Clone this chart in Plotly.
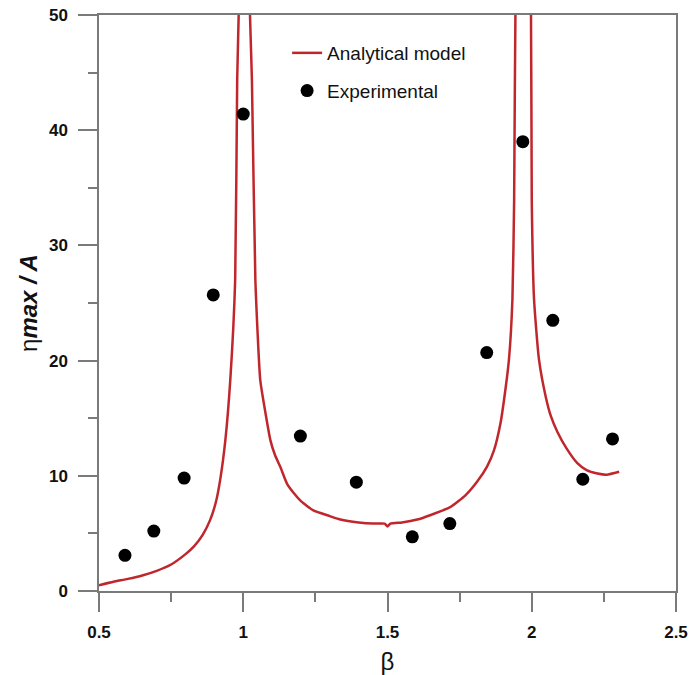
import plotly.graph_objects as go

# Analytical model curve
model_beta = [0.5, 0.55, 0.6, 0.65, 0.7, 0.75, 0.8, 0.83, 0.86, 0.885, 0.905, 0.92, 0.938, 0.955,
              0.972, 0.979, 0.986, 1.003, 1.021, 1.030, 1.042, 1.059, 1.076, 1.094,
              1.11, 1.128, 1.152, 1.175, 1.2, 1.243, 1.3, 1.337, 1.4, 1.45, 1.49, 1.5, 1.51, 1.55,
              1.603, 1.65, 1.719, 1.77, 1.811, 1.845, 1.869, 1.892, 1.904, 1.921, 1.933,
              1.939, 1.944, 1.97, 1.997, 2.0, 2.008, 2.025, 2.049, 2.066, 2.089,
              2.12, 2.158, 2.19, 2.228, 2.26, 2.303]
model_eta = [0.5, 0.8, 1.05, 1.35, 1.75, 2.3, 3.2, 3.9, 4.9, 6.15, 7.7, 9.65, 13.1, 18.3,
             27.0, 44.4, 52.0, 80.0, 52.0, 44.4, 27.0, 18.3, 15.6, 13.1,
             11.8, 10.8, 9.3, 8.5, 7.8, 7.0, 6.5, 6.2, 5.95, 5.85, 5.85, 5.6, 5.85, 5.95,
             6.2, 6.6, 7.3, 8.3, 9.5, 10.8, 12.2, 14.6, 16.6, 20.1, 25.3,
             34.0, 52.0, 80.0, 52.0, 34.0, 25.3, 20.1, 16.8, 15.2, 13.8,
             12.4, 11.1, 10.5, 10.2, 10.1, 10.35]

# Experimental points
exp_beta = [0.59, 0.69, 0.795, 0.896, 1.0, 1.198, 1.392, 1.586, 1.716, 1.844,
            1.969, 2.073, 2.177, 2.28]
exp_eta = [3.1, 5.2, 9.8, 25.7, 41.4, 13.45, 9.45, 4.7, 5.85, 20.7,
           39.0, 23.5, 9.7, 13.2]

x_ticks = [0.5, 1, 1.5, 2, 2.5]
x_ticklabels = ["0.5", "1", "1.5", "2", "2.5"]
y_ticks = [0, 10, 20, 30, 40, 50]
y_ticklabels = ["0", "10", "20", "30", "40", "50"]

AX = "#7a7a7a"
FONT = "Liberation Sans, Arial, sans-serif"

fig = go.Figure()
fig.add_trace(go.Scatter(
    x=model_beta, y=model_eta, mode="lines", name="Analytical model",
    line=dict(color="#c0272d", width=2.5, shape="spline", smoothing=0.5),
    legendgroup="a",
))
fig.add_trace(go.Scatter(
    x=exp_beta, y=exp_eta, mode="markers", name="Experimental",
    marker=dict(color="black", size=13), legendgroup="b",
))

fig.update_layout(
    width=691, height=675,
    margin=dict(l=99, r=15, t=15, b=84, autoexpand=False),
    plot_bgcolor="white", paper_bgcolor="white",
    font=dict(family=FONT, color="black"),
    showlegend=True,
    legend=dict(
        x=0.326, y=0.967, xanchor="left", yanchor="top",
        font=dict(size=19, family=FONT, color="#111"),
        bgcolor="rgba(0,0,0,0)", tracegroupgap=10, traceorder="grouped",
    ),
    xaxis=dict(
        range=[0.5, 2.5], tickvals=x_ticks, ticktext=x_ticklabels,
        showgrid=False, zeroline=False, automargin=False,
        showline=True, linecolor=AX, linewidth=1.5, mirror=True,
        ticks="outside", ticklen=19, tickwidth=1.5, tickcolor=AX,
        minor=dict(dtick=0.25, ticks="outside", ticklen=9, tickwidth=1.5,
                   tickcolor=AX, showgrid=False),
        tickfont=dict(size=17, family=FONT, weight="bold", color="#111"),
        ticklabelstandoff=6,
        title=dict(text="β", font=dict(size=24, family=FONT, color="#111"), standoff=12),
    ),
    yaxis=dict(
        range=[0, 50], tickvals=y_ticks, ticktext=y_ticklabels,
        showgrid=False, zeroline=False, automargin=False,
        showline=True, linecolor=AX, linewidth=1.5, mirror=True,
        ticks="outside", ticklen=19, tickwidth=1.5, tickcolor=AX,
        minor=dict(dtick=5, ticks="outside", ticklen=9, tickwidth=1.5,
                   tickcolor=AX, showgrid=False),
        tickfont=dict(size=17, family=FONT, weight="bold", color="#111"),
        ticklabelstandoff=7,
        title=dict(text="η<b><i>max / A</i></b>",
                   font=dict(size=24, family=FONT, color="#111"), standoff=5),
    ),
)

fig.write_html("out.html")
